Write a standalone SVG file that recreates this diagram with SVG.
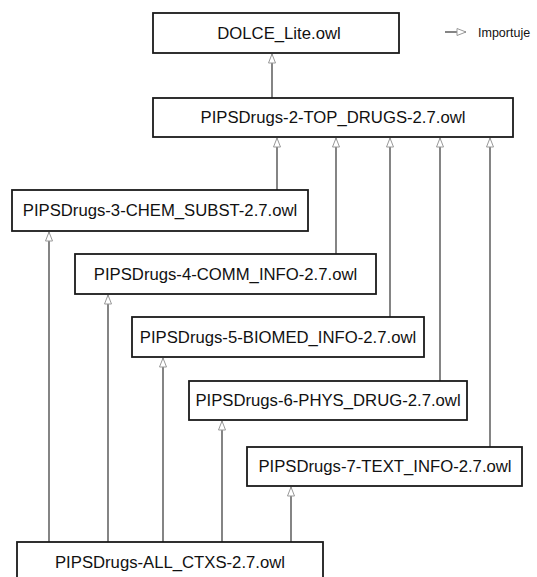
<svg xmlns="http://www.w3.org/2000/svg" width="537" height="577" viewBox="0 0 537 577">
<defs>
<style>
.box{fill:#fff;stroke:#1a1a1a;stroke-width:1.8}
.lbl{font-family:"Liberation Sans",Arial,sans-serif;font-size:16.7px;fill:#111;text-anchor:middle;dominant-baseline:central}
.con{stroke:#333;stroke-width:1.2;fill:none;marker-end:url(#tri)}
.leg{font-family:"Liberation Sans",Arial,sans-serif;font-size:12.5px;fill:#111}
</style>
<marker id="tri" markerUnits="userSpaceOnUse" markerWidth="12" markerHeight="10" viewBox="0 0 12 10" refX="10" refY="5" orient="auto">
<path d="M1,1.5 L10,5 L1,8.5 Z" fill="#fff" stroke="#999" stroke-width="1"/>
</marker>
</defs>
<rect width="537" height="577" fill="#fff"/>
<g id="connectors">
<line class="con" x1="272" y1="98" x2="272" y2="54"/>
<line class="con" x1="277" y1="190" x2="277" y2="138"/>
<line class="con" x1="336" y1="254" x2="336" y2="138"/>
<line class="con" x1="390" y1="317" x2="390" y2="138"/>
<line class="con" x1="440" y1="381" x2="440" y2="138"/>
<line class="con" x1="490" y1="447" x2="490" y2="138"/>
<line class="con" x1="49" y1="542" x2="49" y2="232"/>
<line class="con" x1="108" y1="542" x2="108" y2="295"/>
<line class="con" x1="163" y1="542" x2="163" y2="358"/>
<line class="con" x1="222" y1="542" x2="222" y2="421"/>
<line class="con" x1="291" y1="542" x2="291" y2="487"/>
</g>
<g id="legend">
<line class="con" x1="445" y1="32" x2="466" y2="32"/>
<text class="leg" x="478" y="36.5">Importuje</text>
</g>
<g id="dolce"><rect class="box" x="153" y="13" width="246" height="40"/><text class="lbl" x="279" y="33">DOLCE_Lite.owl</text></g>
<g id="top"><rect class="box" x="153" y="98" width="360" height="39"/><text class="lbl" x="333" y="117.5">PIPSDrugs-2-TOP_DRUGS-2.7.owl</text></g>
<g id="chem"><rect class="box" x="12" y="190" width="296" height="41"/><text class="lbl" x="160" y="210.5">PIPSDrugs-3-CHEM_SUBST-2.7.owl</text></g>
<g id="comm"><rect class="box" x="75" y="254" width="301" height="40"/><text class="lbl" x="225.5" y="274">PIPSDrugs-4-COMM_INFO-2.7.owl</text></g>
<g id="biomed"><rect class="box" x="132" y="317" width="292" height="40"/><text class="lbl" x="278" y="337">PIPSDrugs-5-BIOMED_INFO-2.7.owl</text></g>
<g id="phys"><rect class="box" x="189" y="381" width="278" height="39"/><text class="lbl" x="328" y="400.5">PIPSDrugs-6-PHYS_DRUG-2.7.owl</text></g>
<g id="text"><rect class="box" x="247" y="447" width="275" height="39"/><text class="lbl" x="385" y="466.5">PIPSDrugs-7-TEXT_INFO-2.7.owl</text></g>
<g id="all"><rect class="box" x="17" y="542" width="306" height="45"/><text class="lbl" x="170" y="562">PIPSDrugs-ALL_CTXS-2.7.owl</text></g>
</svg>
